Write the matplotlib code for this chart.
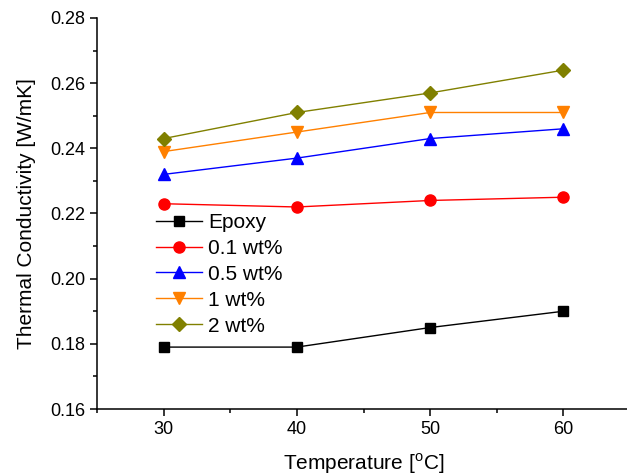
import matplotlib.pyplot as plt
from matplotlib.ticker import MultipleLocator

plt.rcParams['font.family'] = ['Liberation Sans', 'DejaVu Sans']
plt.rcParams['mathtext.fontset'] = 'custom'
plt.rcParams['mathtext.rm'] = 'Liberation Sans'

# data
temps = [30, 40, 50, 60]
epoxy = [0.179, 0.179, 0.185, 0.190]
wt01 = [0.223, 0.222, 0.224, 0.225]
wt05 = [0.232, 0.237, 0.243, 0.246]
wt1 = [0.239, 0.245, 0.251, 0.251]
wt2 = [0.243, 0.251, 0.257, 0.264]

labels = ['Epoxy', '0.1 wt%', '0.5 wt%', '1 wt%', '2 wt%']
series = [epoxy, wt01, wt05, wt1, wt2]
colors = ['black', '#ff0000', '#0000ff', '#ff8000', '#808000']
markers = ['s', 'o', '^', 'v', 'D']
msizes = [7, 8, 8, 8, 7]

fig = plt.figure(figsize=(6.27, 4.75), dpi=100)
ax = fig.add_axes([97/627, 1-409/475, 533/627, 391/475])

for y, lab, c, m, ms in zip(series, labels, colors, markers, msizes):
    ax.plot(temps, y, color=c, marker=m, markersize=ms, linewidth=1, label=lab)

ax.set_xlim(25, 65)
ax.set_ylim(0.16, 0.28)
ax.xaxis.set_major_locator(MultipleLocator(10))
ax.xaxis.set_minor_locator(MultipleLocator(5))
ax.yaxis.set_major_locator(MultipleLocator(0.02))
ax.yaxis.set_minor_locator(MultipleLocator(0.01))
ax.yaxis.set_major_formatter(plt.FormatStrFormatter('%.2f'))

ax.spines['top'].set_visible(False)
ax.spines['right'].set_visible(False)
ax.spines['left'].set_linewidth(1.1)
ax.spines['bottom'].set_linewidth(1.1)
ax.tick_params(which='major', direction='out', length=5, width=1.1, labelsize=13)
ax.tick_params(which='minor', direction='out', length=3, width=1.1)

ax.set_xlabel(r'Temperature [$^\mathregular{o}$C]', fontsize=15, labelpad=10)
ax.set_ylabel('Thermal Conductivity [W/mK]', fontsize=15, labelpad=10)

ax.legend(loc='upper left', bbox_to_anchor=(156/627, 1-213/475),
          bbox_transform=fig.transFigure, frameon=False, fontsize=15,
          borderpad=0, borderaxespad=0, handlelength=2.2,
          handletextpad=0.3, labelspacing=0.33)

fig.savefig('out.png', dpi=100)
